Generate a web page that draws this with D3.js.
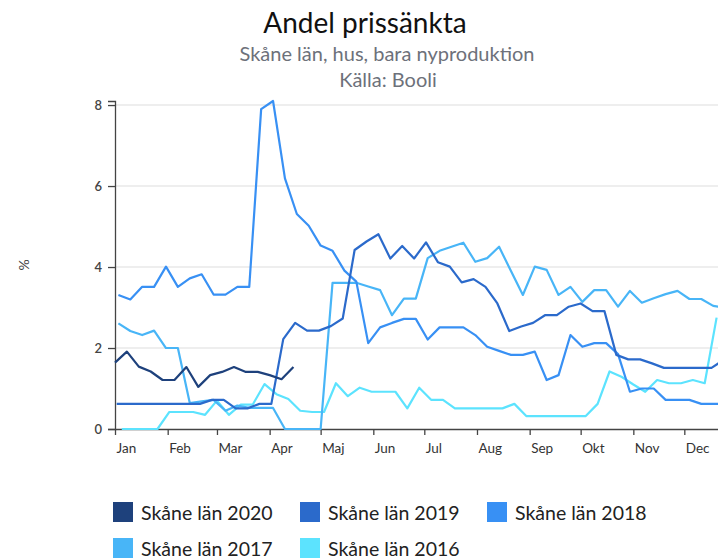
<!DOCTYPE html>
<html>
<head>
<meta charset="utf-8">
<script src="https://cdn.jsdelivr.net/npm/d3@7"></script>
<style>
  html, body { margin: 0; padding: 0; background: #fff; }
  svg { display: block; font-family: Lato, "Open Sans", sans-serif; }
</style>
</head>
<body>
<svg id="chart" width="718" height="560"></svg>
<script>
// Weekly share of price-reduced listings (%), Skåne län, houses, new production only
const seriesNames = ["Skåne län 2020", "Skåne län 2019", "Skåne län 2018", "Skåne län 2017", "Skåne län 2016"];
const seriesColors = ["#1e417c", "#2b6acb", "#3890f4", "#48b5f7", "#5ce3fe"];
// Day of January on which each year's first weekly observation falls
const firstWeekDay = [1, 2, 3, 3, 5];

const values2020 = [1.64, 1.91, 1.54, 1.42, 1.21, 1.21, 1.53, 1.04, 1.33, 1.41, 1.53, 1.41, 1.41, 1.33, 1.23, 1.53];
const values2019 = [0.62, 0.62, 0.62, 0.62, 0.62, 0.62, 0.62, 0.62, 0.72, 0.72, 0.51, 0.51, 0.62, 0.62, 2.22, 2.62,
  2.43, 2.43, 2.54, 2.73, 4.42, 4.63, 4.81, 4.21, 4.52, 4.21, 4.61, 4.12, 4.01, 3.62, 3.70, 3.51, 3.10, 2.42, 2.53,
  2.62, 2.81, 2.81, 3.02, 3.10, 2.91, 2.91, 1.83, 1.72, 1.72, 1.62, 1.51, 1.51, 1.51, 1.51, 1.51, 1.70];
const values2018 = [3.31, 3.20, 3.51, 3.51, 4.01, 3.51, 3.72, 3.82, 3.32, 3.32, 3.51, 3.51, 7.90, 8.10, 6.19, 5.31,
  5.02, 4.53, 4.40, 3.91, 3.64, 2.12, 2.51, 2.62, 2.72, 2.72, 2.21, 2.51, 2.51, 2.51, 2.32, 2.03, 1.93, 1.83, 1.83,
  1.91, 1.21, 1.33, 2.32, 2.03, 2.12, 2.12, 1.85, 0.92, 1.00, 1.00, 0.72, 0.72, 0.72, 0.62, 0.62, 0.62];
const values2017 = [2.61, 2.42, 2.32, 2.43, 2.00, 2.00, 0.64, 0.68, 0.72, 0.45, 0.58, 0.52, 0.52, 0.52, 0, 0,
  0, 0, 3.61, 3.61, 3.61, 3.52, 3.43, 2.81, 3.22, 3.22, 4.22, 4.40, 4.50, 4.60, 4.13, 4.22, 4.50, 3.90, 3.31,
  4.01, 3.93, 3.31, 3.51, 3.14, 3.43, 3.43, 3.02, 3.41, 3.12, 3.23, 3.33, 3.41, 3.21, 3.21, 3.04, 3.00];
const values2016 = [0, 0, 0, 0, 0.42, 0.42, 0.42, 0.35, 0.70, 0.35, 0.60, 0.60, 1.11, 0.86, 0.74, 0.45,
  0.42, 0.42, 1.13, 0.81, 1.02, 0.92, 0.92, 0.92, 0.51, 1.02, 0.72, 0.72, 0.51, 0.51, 0.51, 0.51, 0.51, 0.62, 0.32,
  0.32, 0.32, 0.32, 0.32, 0.32, 0.62, 1.42, 1.29, 1.10, 0.92, 1.21, 1.13, 1.13, 1.21, 1.13, 2.75];

const monthLabels = ["Jan", "Feb", "Mar", "Apr", "Maj", "Jun", "Jul", "Aug", "Sep", "Okt", "Nov", "Dec"];
const yTicks = [0, 2, 4, 6, 8];

const titleText = "Andel prissänkta";
const subtitleText = "Skåne län, hus, bara nyproduktion";
const sourceText = "Källa: Booli";
const yAxisLabel = "%";

const allValues = [values2020, values2019, values2018, values2017, values2016];

// Every year is plotted on a common calendar so weeks line up by date
const series = seriesNames.map((name, s) => ({
  name,
  color: seriesColors[s],
  points: allValues[s].map((v, i) => ({ date: new Date(2020, 0, firstWeekDay[s] + 7 * i), value: v }))
}));

const svg = d3.select("#chart");
const plot = { left: 115, right: 737, top: 101, bottom: 429 };

const yearStart = new Date(2020, 0, 1);
const yearEnd = new Date(2021, 0, 1);
const x = d3.scaleTime()
  .domain([yearStart, yearEnd])
  .range([plot.left, plot.right]);

const yMax = d3.max(allValues.flat());
const y = d3.scaleLinear()
  .domain([0, yMax])
  .range([plot.bottom, plot.top]);

// Titles
svg.append("text")
  .attr("x", 365).attr("y", 33)
  .attr("text-anchor", "middle")
  .attr("font-size", 28)
  .attr("fill", "#111")
  .text(titleText);
svg.append("text")
  .attr("x", 387).attr("y", 61)
  .attr("text-anchor", "middle")
  .attr("font-size", 20)
  .attr("fill", "#6d717a")
  .text(subtitleText);
svg.append("text")
  .attr("x", 388).attr("y", 87)
  .attr("text-anchor", "middle")
  .attr("font-size", 20)
  .attr("fill", "#6d717a")
  .text(sourceText);

// Horizontal gridlines
svg.append("g")
  .selectAll("line")
  .data(yTicks.filter(t => t > 0))
  .join("line")
  .attr("x1", plot.left).attr("x2", 718)
  .attr("y1", d => y(d)).attr("y2", d => y(d))
  .attr("stroke", "#e9e9e9")
  .attr("stroke-width", 1.5);

// Y axis
const yAxis = svg.append("g")
  .attr("transform", `translate(${plot.left},0)`)
  .call(d3.axisLeft(y).tickValues(yTicks).tickFormat(d3.format("d")).tickSize(7).tickSizeOuter(7).tickPadding(6));
yAxis.selectAll("path, line").attr("stroke", "#444").attr("stroke-width", 1.3);
yAxis.selectAll("text").attr("font-size", 13).attr("fill", "#444").attr("font-family", "Lato, sans-serif").attr("font-weight", 600);

svg.append("text")
  .attr("transform", "translate(25,265) rotate(-90)")
  .attr("text-anchor", "middle")
  .attr("dominant-baseline", "middle")
  .attr("font-size", 14)
  .attr("fill", "#444")
  .text(yAxisLabel);

// X axis with one tick per month of the year, labels starting at each month boundary
const monthStarts = d3.timeMonth.range(yearStart, yearEnd);
const xAxis = svg.append("g")
  .attr("transform", `translate(0,${plot.bottom})`)
  .call(d3.axisBottom(x)
    .tickValues(monthStarts)
    .tickFormat(d => monthLabels[d.getMonth()])
    .tickSize(6).tickSizeOuter(0).tickPadding(8));
xAxis.select(".domain").attr("stroke", "#444").attr("stroke-width", 1.3);
xAxis.selectAll(".tick line").attr("stroke", "#444").attr("stroke-width", 1.3);
xAxis.selectAll(".tick text")
  .attr("text-anchor", "start")
  .attr("x", 1)
  .attr("font-size", 13.5)
  .attr("fill", "#333")
  .attr("font-family", "Lato, sans-serif");

// Lines, oldest year drawn first so newer years sit on top
const line = d3.line().x(d => x(d.date)).y(d => y(d.value));
svg.append("g")
  .selectAll("path")
  .data(series.slice().reverse())
  .join("path")
  .attr("d", d => line(d.points))
  .attr("fill", "none")
  .attr("stroke", d => d.color)
  .attr("stroke-width", 2.2)
  .attr("stroke-linejoin", "round");

// Legend
const legend = svg.append("g");
const item = legend.selectAll("g")
  .data(series)
  .join("g")
  .attr("transform", (d, i) => `translate(${113 + (i % 3) * 187},${502 + Math.floor(i / 3) * 36})`);
item.append("rect")
  .attr("width", 20).attr("height", 20)
  .attr("fill", d => d.color);
item.append("text")
  .attr("x", 28).attr("y", 17.5)
  .attr("font-size", 19.5)
  .attr("fill", "#222")
  .text(d => d.name);
</script>
</body>
</html>
